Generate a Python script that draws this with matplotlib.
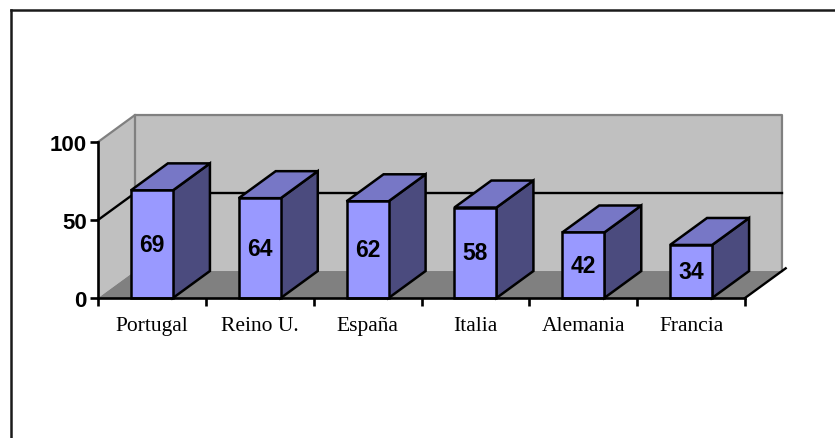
import matplotlib.pyplot as plt
from matplotlib.patches import Polygon
from matplotlib.lines import Line2D

paises = ['Portugal', 'Reino U.', 'España', 'Italia', 'Alemania', 'Francia']
valores = [69, 64, 62, 58, 42, 34]
y_ticks = [0, 50, 100]

# depth offset of the pseudo-3D box, in data units (categories, value)
DX = 0.343
DY = 17.3
BAR_W = 0.39

FRONT = '#9999FF'
TOP = '#7777C6'
SIDE = '#4B4B7E'


def poly(ax, pts, face, edge='none', lw=0.0, z=1):
    p = Polygon(pts, closed=True, facecolor=face, edgecolor=edge,
                linewidth=lw, clip_on=False, zorder=z, joinstyle='miter')
    ax.add_patch(p)


def draw_walls(ax, n, ymax):
    # back wall, side wall and floor
    poly(ax, [(DX, DY), (n + DX, DY), (n + DX, ymax + DY), (DX, ymax + DY)], '#C0C0C0', z=0.5)
    poly(ax, [(0, 0), (DX, DY), (DX, ymax + DY), (0, ymax)], '#C0C0C0', z=0.5)
    poly(ax, [(0, 0), (n, 0), (n + DX, DY), (DX, DY)], '#808080', z=0.6)
    # wall outlines
    gray = dict(color='#808080', lw=1.6, clip_on=False, zorder=0.7)
    ax.plot([0, DX, n + DX, n + DX], [ymax, ymax + DY, ymax + DY, DY], **gray)
    ax.plot([DX, DX], [DY, ymax + DY], **gray)
    # gridlines
    for t in y_ticks[1:-1]:
        ax.plot([0, DX, n + DX], [t, t + DY, t + DY], color='black', lw=1.7,
                clip_on=False, zorder=0.8)
    # right floor edge
    ax.plot([n, n + DX * 1.1], [0, DY * 1.1], color='black', lw=1.7,
            clip_on=False, zorder=0.8)


def draw_bar(ax, xc, v):
    x0, x1 = xc - BAR_W / 2, xc + BAR_W / 2
    ek = dict(edge='black', lw=1.8, z=3)
    poly(ax, [(x1, 0), (x1 + DX, DY), (x1 + DX, v + DY), (x1, v)], SIDE, **ek)
    poly(ax, [(x0, v), (x1, v), (x1 + DX, v + DY), (x0 + DX, v + DY)], TOP, **ek)
    poly(ax, [(x0, 0), (x1, 0), (x1, v), (x0, v)], FRONT, **ek)
    ax.text(xc, v / 2, str(v), ha='center', va='center', fontsize=16.5,
            fontweight='bold', family='Liberation Sans', zorder=4)


fig = plt.figure(figsize=(8.35, 4.39), dpi=100)
ax = fig.add_axes([98 / 835, 140 / 439, 647 / 835, 156 / 439])
n = len(paises)
ax.set_xlim(0, n)
ax.set_ylim(0, 100)
ax.patch.set_visible(False)
for s in ['top', 'right']:
    ax.spines[s].set_visible(False)
for s in ['left', 'bottom']:
    ax.spines[s].set_linewidth(1.9)
    ax.spines[s].set_zorder(5)

draw_walls(ax, n, y_ticks[-1])
for i, v in enumerate(valores):
    draw_bar(ax, i + 0.5, v)

ax.set_yticks(y_ticks)
ax.set_yticklabels([str(t) for t in y_ticks], fontsize=16, fontweight='bold',
                   family='Liberation Sans')
ax.set_xticks(range(n + 1))
ax.set_xticklabels([])
ax.set_xticks([i + 0.5 for i in range(n)], minor=True)
ax.set_xticklabels(paises, minor=True, fontsize=15.5, family='Liberation Serif')
ax.tick_params(axis='x', which='major', direction='out', length=6, width=1.9)
ax.tick_params(axis='x', which='minor', length=0, pad=13)
ax.tick_params(axis='y', direction='out', length=6, width=1.9, pad=2)

# outer chart frame
fig.add_artist(Line2D([11 / 835, 11 / 835], [0, 1 - 11 / 439], color='#1a1a1a', lw=1.8))
fig.add_artist(Line2D([11 / 835, 1], [1 - 11 / 439, 1 - 11 / 439], color='#1a1a1a', lw=1.8))

fig.savefig('out.png', dpi=100)
